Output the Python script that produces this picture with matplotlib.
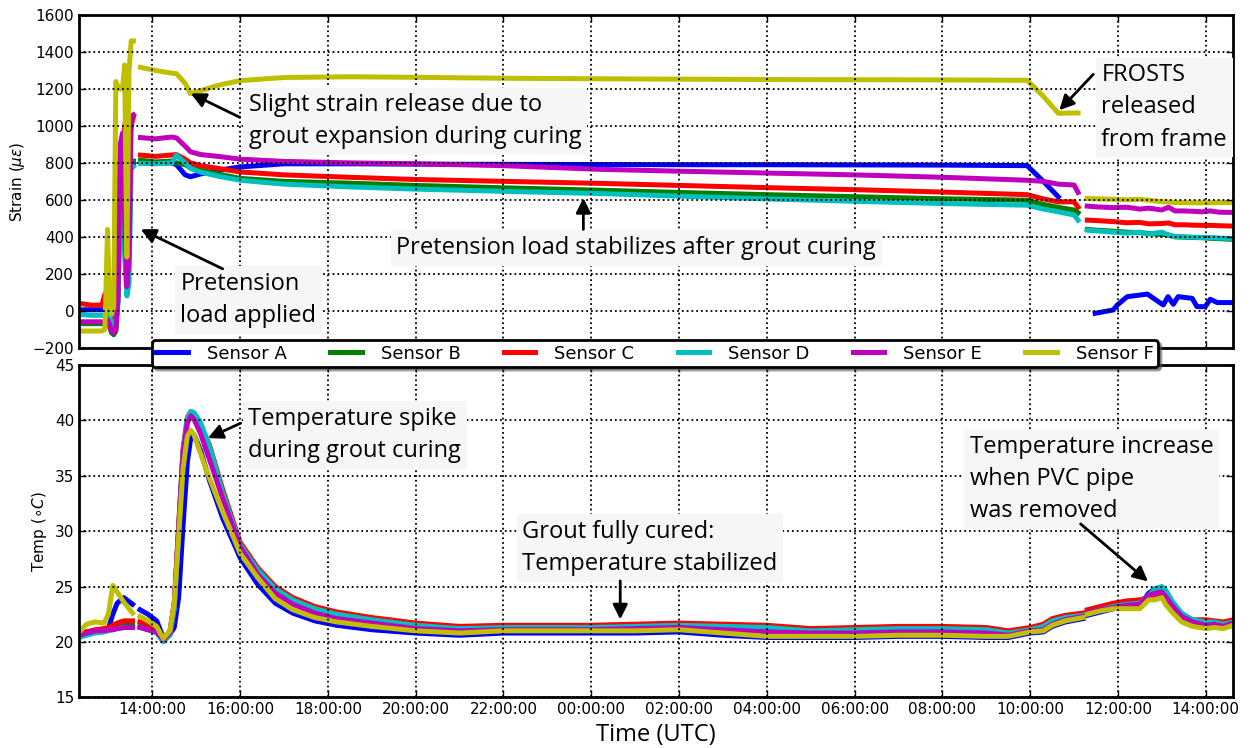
import numpy as np
import matplotlib
matplotlib.use('Agg')
import matplotlib.pyplot as plt
from matplotlib.ticker import FuncFormatter, MultipleLocator

# time in hours from midnight of day 1 (values > 24 are the next day)
sensors = ['Sensor A', 'Sensor B', 'Sensor C', 'Sensor D', 'Sensor E', 'Sensor F']
colors = ['b', 'g', 'r', 'c', 'm', 'y']

# ---- strain, segment 1 (loading) ----
ts1 = [12.34, 12.60, 12.85, 12.92, 12.98, 13.02, 13.07, 13.12, 13.17, 13.22, 13.27, 13.32, 13.37, 13.42, 13.47, 13.52, 13.57]
s1_a = [5, 5, 5, 5, 10, 20, -50, 150, -40, 100, 760, 800, 800, 700, 820, 800, 800]
s1_b = [-70, -70, -70, -70, -60, -80, -120, -130, -110, 60, 800, 810, 700, 500, 780, 810, 810]
s1_c = [40, 30, 30, 90, 80, 40, -60, -40, -30, 300, 830, 840, 1000, 1060, 900, 1000, 1050]
s1_d = [-20, -25, -25, -25, 0, -30, -60, -80, -60, 50, 720, 790, 300, 80, 150, 790, 780]
s1_e = [-60, -60, -60, -60, -50, -70, -110, -120, -100, 80, 900, 960, 500, 130, 290, 1050, 1060]
s1_f = [-110, -110, -110, -100, 440, 60, -20, 20, 1240, 1210, 1200, 1200, 1330, 290, 1300, 1460, 1460]

# ---- strain, segment 2 (curing) ----
ts2 = [13.73, 14.07, 14.45, 14.55, 14.75, 14.87, 15.1, 15.5, 16.0, 17.0, 18.5, 20, 22, 24.2, 26, 28, 30, 32, 33.93, 34.3, 34.64, 35.0, 35.09]
s2_a = [806, 800, 800, 790, 735, 725, 740, 760, 778, 795, 795, 793, 792, 791, 790, 790, 789, 788, 785, 700, 616, np.nan, np.nan]
s2_b = [814, 805, 810, 800, 790, 775, 760, 740, 716, 700, 690, 678, 665, 652, 640, 628, 617, 606, 598, 575, 559, 545, 530]
s2_c = [842, 835, 843, 845, 820, 800, 785, 770, 751, 735, 722, 710, 700, 689, 678, 666, 655, 642, 628, 605, 589, 589, 560]
s2_d = [797, 795, 800, 842, 800, 770, 750, 728, 706, 685, 670, 658, 646, 634, 620, 605, 592, 580, 571, 550, 535, 518, 490]
s2_e = [937, 930, 940, 935, 890, 860, 845, 835, 820, 808, 800, 795, 785, 765, 755, 745, 735, 722, 706, 700, 685, 680, 640]
s2_f = [1317, 1300, 1285, 1283, 1230, 1175, 1190, 1220, 1245, 1262, 1266, 1263, 1258, 1255, 1253, 1251, 1250, 1249, 1247, 1160, 1068, 1070, 1070]

# ---- strain, segment 3 (released) ----
ts3 = [35.3, 35.5, 35.9, 36.2, 36.5, 36.7, 37.0, 37.15, 37.3, 37.5, 37.7, 37.9, 38.1, 38.3, 38.62]
ts3_a = [35.48, 35.89, 35.98, 36.21, 36.67, 37.03, 37.14, 37.26, 37.37, 37.69, 37.80, 37.99, 38.1, 38.26, 38.62]
s3_a = [-14, 4, 30, 76, 90, 31, 76, 35, 76, 67, 22, 22, 62, 44, 44]
s3_b = [440, 436, 430, 425, 422, 418, 412, 410, 400, 398, 396, 395, 392, 390, 386]
s3_c = [490, 488, 482, 476, 478, 470, 472, 475, 465, 465, 463, 462, 462, 460, 458]
s3_d = [436, 432, 425, 420, 425, 415, 425, 410, 400, 400, 398, 396, 396, 393, 391]
s3_e = [566, 562, 558, 560, 550, 555, 545, 560, 540, 540, 538, 535, 540, 533, 532]
s3_f = [607, 605, 603, 600, 603, 598, 590, 588, 585, 585, 584, 584, 584, 585, 585]

# ---- temperature, segment 1 ----
tt1 = [12.34, 12.5, 12.7, 12.9, 13.0, 13.1, 13.2, 13.35, 13.55]
t1_a = [20.6, 20.9, 21.0, 21.1, 21.2, 22.5, 23.5, 24.0, 23.4]
t1_b = [20.6, 20.8, 21.0, 21.1, 21.2, 21.3, 21.5, 21.6, 21.6]
t1_c = [20.7, 20.9, 21.1, 21.2, 21.3, 21.5, 21.7, 21.9, 21.9]
t1_d = [20.4, 20.6, 20.8, 20.9, 21.0, 21.1, 21.2, 21.3, 21.3]
t1_e = [20.6, 20.8, 21.0, 21.0, 21.1, 21.1, 21.2, 21.3, 21.3]
t1_f = [20.9, 21.6, 21.8, 21.7, 22.5, 25.1, 24.5, 23.6, 22.6]

# ---- temperature, segment 2 ----
tt2 = [13.72, 13.9, 14.1, 14.25, 14.4, 14.5, 14.6, 14.7, 14.8, 14.88, 14.95,
       15.1, 15.3, 15.6, 16.0, 16.4, 16.8, 17.2, 17.7, 18.2, 19.0,
       20.0, 21.0, 22.0, 23.0, 24.0, 25.0, 26.0, 27.0, 28.0, 29.0,
       30.0, 31.0, 32.0, 33.0, 33.5, 34.0, 34.3, 34.5, 34.8, 35.2]
t2_a = [22.9, 22.5, 21.9, 20.4, 20.7, 21.3, 24.0, 30.5, 36.3, 38.5, 38.7,
        37.3, 34.6, 31.2, 27.6, 25.2, 23.5, 22.6, 21.9, 21.5, 21.1,
        20.8, 20.6, 20.8, 20.8, 20.8, 20.8, 20.9, 20.6, 20.4, 20.4,
        20.4, 20.5, 20.5, 20.4, 20.4, 20.8, 20.9, 21.4, 21.8, 22.1]
t2_b = [21.5, 21.3, 21.0, 20.1, 20.7, 23.2, 30.2, 37.0, 39.9, 40.5, 40.3,
        39.3, 37.2, 33.3, 28.6, 26.1, 24.6, 23.6, 22.8, 22.3, 21.8,
        21.4, 21.1, 21.2, 21.2, 21.2, 21.3, 21.4, 21.3, 21.1, 20.9,
        21.0, 21.1, 21.1, 21.0, 20.7, 21.0, 21.3, 21.8, 22.1, 22.3]
t2_c = [21.8, 21.6, 21.2, 20.3, 20.9, 23.5, 30.5, 37.4, 40.3, 40.8, 40.6,
        39.6, 37.8, 33.8, 29.0, 26.7, 25.0, 24.0, 23.2, 22.7, 22.2,
        21.7, 21.4, 21.5, 21.5, 21.5, 21.6, 21.7, 21.6, 21.5, 21.2,
        21.3, 21.4, 21.4, 21.3, 21.0, 21.3, 21.6, 22.1, 22.4, 22.6]
t2_d = [21.3, 21.1, 20.8, 20.0, 20.6, 23.0, 30.0, 37.2, 40.2, 40.8, 40.7,
        39.8, 37.7, 33.5, 28.8, 26.5, 24.8, 23.8, 23.0, 22.5, 22.0,
        21.5, 21.2, 21.3, 21.3, 21.3, 21.4, 21.5, 21.4, 21.3, 21.0,
        21.1, 21.2, 21.2, 21.1, 20.8, 21.1, 21.4, 21.9, 22.2, 22.4]
t2_e = [21.3, 21.1, 20.9, 20.2, 20.8, 23.5, 30.0, 37.0, 39.8, 40.4, 40.1,
        38.8, 36.5, 33.0, 28.6, 26.1, 24.4, 23.4, 22.6, 22.1, 21.7,
        21.2, 21.0, 21.1, 21.1, 21.1, 21.2, 21.3, 21.1, 20.9, 20.8,
        20.8, 20.9, 20.9, 20.8, 20.6, 21.0, 21.1, 21.6, 22.0, 22.3]
t2_f = [22.3, 21.9, 21.4, 20.3, 21.0, 23.5, 29.5, 35.6, 38.6, 39.1, 38.7,
        37.0, 34.8, 31.8, 28.0, 25.8, 23.9, 22.9, 22.2, 21.8, 21.4,
        21.0, 20.8, 21.0, 21.0, 21.0, 21.0, 21.1, 20.8, 20.5, 20.5,
        20.5, 20.6, 20.6, 20.5, 20.5, 20.9, 21.0, 21.5, 21.9, 22.2]

# ---- temperature, segment 3 ----
tt3 = [35.3, 35.6, 35.9, 36.2, 36.5, 36.7, 36.85, 37.0, 37.1, 37.25, 37.45, 37.7, 38.0, 38.2, 38.4, 38.62]
t3_a = [22.4, 22.7, 23.0, 23.2, 23.3, 24.4, 24.8, 24.4, 23.8, 23.0, 22.2, 21.6, 21.4, 21.4, 21.3, 21.5]
t3_b = [22.7, 23.0, 23.3, 23.5, 23.6, 24.2, 24.5, 24.6, 24.1, 23.3, 22.4, 21.9, 21.8, 21.8, 21.6, 21.8]
t3_c = [22.9, 23.2, 23.5, 23.7, 23.8, 24.0, 24.3, 24.3, 23.6, 22.8, 22.2, 22.0, 22.0, 21.9, 21.8, 22.0]
t3_d = [22.6, 22.9, 23.2, 23.4, 23.5, 24.2, 24.8, 25.0, 24.6, 23.6, 22.6, 22.0, 21.8, 21.8, 21.6, 21.8]
t3_e = [22.6, 22.9, 23.1, 23.3, 23.4, 24.2, 24.4, 24.5, 24.0, 23.2, 22.3, 21.8, 21.5, 21.6, 21.4, 21.7]
t3_f = [22.5, 22.8, 23.0, 23.0, 23.0, 23.8, 23.8, 24.0, 23.3, 22.6, 21.8, 21.4, 21.2, 21.3, 21.2, 21.5]

strain = [
    [(ts1, s1_a), (ts2, s2_a), (ts3_a, s3_a)],
    [(ts1, s1_b), (ts2, s2_b), (ts3, s3_b)],
    [(ts1, s1_c), (ts2, s2_c), (ts3, s3_c)],
    [(ts1, s1_d), (ts2, s2_d), (ts3, s3_d)],
    [(ts1, s1_e), (ts2, s2_e), (ts3, s3_e)],
    [(ts1, s1_f), (ts2, s2_f), (ts3, s3_f)],
]
temp = [
    [(tt1, t1_a), (tt2, t2_a), (tt3, t3_a)],
    [(tt1, t1_b), (tt2, t2_b), (tt3, t3_b)],
    [(tt1, t1_c), (tt2, t2_c), (tt3, t3_c)],
    [(tt1, t1_d), (tt2, t2_d), (tt3, t3_d)],
    [(tt1, t1_e), (tt2, t2_e), (tt3, t3_e)],
    [(tt1, t1_f), (tt2, t2_f), (tt3, t3_f)],
]

note_font = ['Open Sans', 'DejaVu Sans']
note_box = dict(facecolor='#f6f6f6', edgecolor='none', pad=4)
note_kw = dict(fontsize=17, family=note_font, va='center', ha='left',
               linespacing=1.45, bbox=note_box)
arrow_kw = dict(arrowstyle='-|>', color='k', lw=2, mutation_scale=22)

fig = plt.figure(figsize=(12.5, 7.48), dpi=100)
ax1 = fig.add_axes([0.0632, 0.5352, 0.9232, 0.4447])
ax2 = fig.add_axes([0.0632, 0.0678, 0.9232, 0.4442], sharex=ax1)

handles = []
for i in range(6):
    for j, (t, v) in enumerate(strain[i]):
        ln, = ax1.plot(t, v, color=colors[i], linewidth=3.6)
        if j == 0:
            handles.append(ln)
    for t, v in temp[i]:
        ax2.plot(t, v, color=colors[i], linewidth=3.6)

for ax in (ax1, ax2):
    ax.grid(True, color='k', linestyle=':', linewidth=1.3)
    ax.set_axisbelow(False)
    ax.tick_params(direction='in', top=True, right=True, length=5, width=1,
                   labelsize=11)
    for sp in ax.spines.values():
        sp.set_linewidth(2)

ax1.set_xlim(12.33, 38.62)
ax1.set_xticks(np.arange(14, 39, 2))
ax2.xaxis.set_major_formatter(FuncFormatter(lambda h, p: '%02d:00:00' % (int(round(h)) % 24)))
ax1.tick_params(labelbottom=False)

ax1.set_ylim(-200, 1600)
ax1.yaxis.set_major_locator(MultipleLocator(200))
ax2.set_ylim(15, 45)
ax2.yaxis.set_major_locator(MultipleLocator(5))

ax1.set_ylabel(r'Strain ($\mu\epsilon$)', fontsize=11)
ax2.set_ylabel(r'Temp ($\circ C$)', fontsize=11)
ax2.set_xlabel('Time (UTC)', fontsize=17, family=note_font)

# annotations, strain panel
ax1.text(16.2, 1025, 'Slight strain release due to\ngrout expansion during curing', **note_kw)
ax1.annotate('', xy=(14.82, 1182), xytext=(16.05, 1040), arrowprops=arrow_kw)
ax1.text(14.64, 58, 'Pretension\nload applied', **note_kw)
ax1.annotate('', xy=(13.68, 447), xytext=(15.66, 220), arrowprops=arrow_kw)
ax1.text(19.56, 339, 'Pretension load stabilizes after grout curing', **note_kw)
ax1.annotate('', xy=(23.82, 625), xytext=(23.82, 425), arrowprops=arrow_kw)
ax1.text(35.62, 1100, 'FROSTS\nreleased\nfrom frame', **note_kw)
ax1.annotate('', xy=(34.62, 1074), xytext=(35.48, 1290), arrowprops=arrow_kw)

# annotations, temperature panel
ax2.text(16.19, 38.7, 'Temperature spike\nduring grout curing', **note_kw)
ax2.annotate('', xy=(15.21, 38.3), xytext=(16.07, 39.85), arrowprops=arrow_kw)
ax2.text(22.43, 28.47, 'Grout fully cured:\nTemperature stabilized', **note_kw)
ax2.annotate('', xy=(24.66, 21.78), xytext=(24.66, 25.76), arrowprops=arrow_kw)
ax2.text(32.63, 34.7, 'Temperature increase\nwhen PVC pipe\nwas removed', **note_kw)
ax2.annotate('', xy=(36.73, 25.3), xytext=(35.10, 30.82), arrowprops=arrow_kw)

leg = fig.legend(handles, sensors, loc='center', bbox_to_anchor=(0.524, 0.527),
                 ncol=6, fancybox=True, shadow=True, fontsize=13, framealpha=1,
                 edgecolor='k', handlelength=1.75, columnspacing=2.4,
                 borderpad=0.25, handletextpad=1.05)
leg.get_frame().set_linewidth(2)

fig.savefig('out.png', dpi=100)
